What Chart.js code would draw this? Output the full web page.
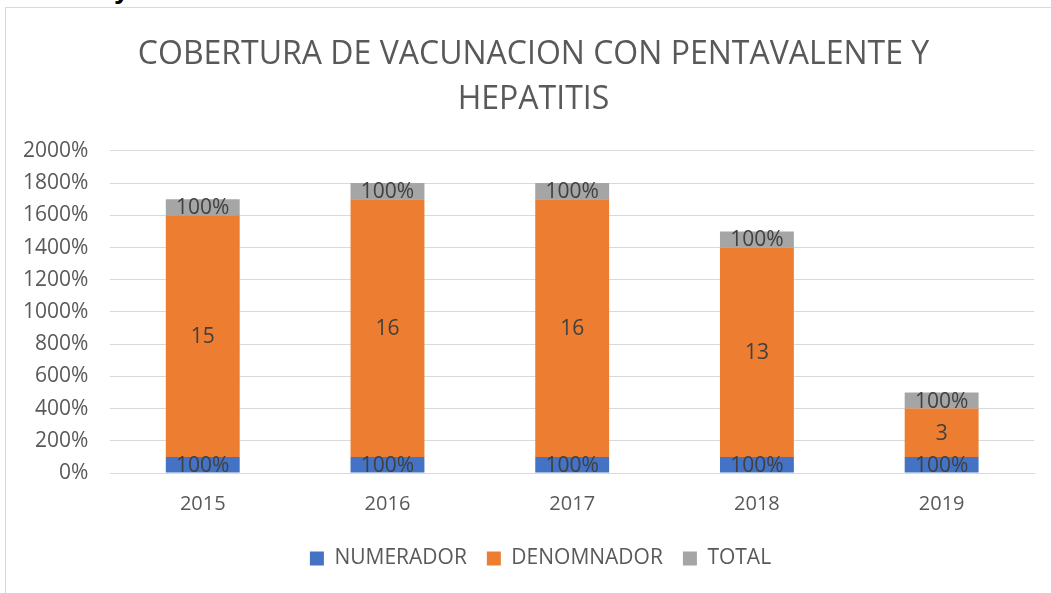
<!DOCTYPE html>
<html>
<head>
<meta charset="utf-8">
<script src="https://cdn.jsdelivr.net/npm/chart.js@4"></script>
<style>
  html, body { margin: 0; padding: 0; background: #fff; }
  #wrap { position: relative; width: 1051px; height: 593px; overflow: hidden; }
  #frame { position: absolute; left: 5px; top: 7px; width: 1050px; height: 590px; border: 1px solid #d9d9d9; box-sizing: border-box; }
  #arriba { position: absolute; left: 0; top: 0; width: 300px; height: 6px; overflow: hidden; }
  #arriba span { position: absolute; left: 114px; top: -27px; font: bold 28px 'Liberation Sans', sans-serif; color: #000; }
  #cv { position: absolute; left: 0; top: 0; }
</style>
</head>
<body>
<div id="wrap">
  <div id="arriba"><span>y</span></div>
  <div id="frame"></div>
  <canvas id="cv" width="1051" height="593"></canvas>
</div>
<script>
// Datos (en %)
const anios = ['2015', '2016', '2017', '2018', '2019'];
const numerador = [100, 100, 100, 100, 100];
const denominador = [1500, 1600, 1600, 1300, 300];
const total = [100, 100, 100, 100, 100];
// Etiquetas que se muestran en cada segmento
const etiquetasNumerador = ['100%', '100%', '100%', '100%', '100%'];
const etiquetasDenominador = ['15', '16', '16', '13', '3'];
const etiquetasTotal = ['100%', '100%', '100%', '100%', '100%'];
const ticksY = [0, 200, 400, 600, 800, 1000, 1200, 1400, 1600, 1800, 2000];

const fuente = "'Open Sans', sans-serif";
const gris = '#595959';

// Plugin sencillo para escribir las etiquetas dentro de las barras
const etiquetasPlugin = {
  id: 'etiquetas',
  afterDatasetsDraw(chart) {
    const ctx = chart.ctx;
    const listas = [etiquetasNumerador, etiquetasDenominador, etiquetasTotal];
    ctx.save();
    ctx.font = '21px ' + fuente;
    ctx.fillStyle = '#404040';
    ctx.textAlign = 'center';
    ctx.textBaseline = 'middle';
    chart.data.datasets.forEach((ds, i) => {
      const meta = chart.getDatasetMeta(i);
      meta.data.forEach((bar, j) => {
        const yc = (bar.y + bar.base) / 2;
        ctx.fillText(listas[i][j], bar.x, yc + 1);
      });
    });
    ctx.restore();
  }
};

// Centrar titulo y leyenda sobre el marco del grafico (como en Excel)
const centrarPlugin = {
  id: 'centrar',
  afterLayout(chart) {
    chart.titleBlock.left += 32;
    chart.legend.left += 46;
  }
};

const ctx = document.getElementById('cv').getContext('2d');
new Chart(ctx, {
  type: 'bar',
  data: {
    labels: anios,
    datasets: [
      { label: 'NUMERADOR', data: numerador, backgroundColor: '#4472c4' },
      { label: 'DENOMNADOR', data: denominador, backgroundColor: '#ed7d31' },
      { label: 'TOTAL', data: total, backgroundColor: '#a5a5a5' }
    ]
  },
  plugins: [etiquetasPlugin, centrarPlugin],
  options: {
    responsive: false,
    animation: false,
    layout: { padding: { left: 1, right: 17, top: 20, bottom: 14 } },
    datasets: {
      bar: { barPercentage: 1, categoryPercentage: 0.4 }
    },
    plugins: {
      title: {
        display: true,
        text: ['COBERTURA DE VACUNACION CON PENTAVALENTE Y', 'HEPATITIS'],
        color: gris,
        font: { family: fuente, size: 32, weight: 'normal', lineHeight: 1.42 },
        padding: { top: 12, bottom: 28 }
      },
      legend: {
        position: 'bottom',
        labels: {
          color: gris,
          font: { family: fuente, size: 21 },
          boxWidth: 14,
          boxHeight: 14,
          padding: 20
        }
      },
      tooltip: { enabled: false }
    },
    scales: {
      x: {
        stacked: true,
        grid: { display: false },
        border: { display: true, color: '#d9d9d9' },
        ticks: { color: gris, font: { family: fuente, size: 20 }, padding: 11 },
        afterFit(axis) { axis.height += 1; }
      },
      y: {
        stacked: true,
        min: 0,
        max: 2000,
        afterBuildTicks(axis) {
          axis.ticks = ticksY.map(v => ({ value: v }));
        },
        grid: { color: '#d9d9d9', lineWidth: 1, drawTicks: false },
        border: { display: false },
        ticks: {
          color: gris,
          font: { family: fuente, size: 21 },
          padding: 22,
          callback: v => v + '%'
        }
      }
    }
  }
});
</script>
</body>
</html>
